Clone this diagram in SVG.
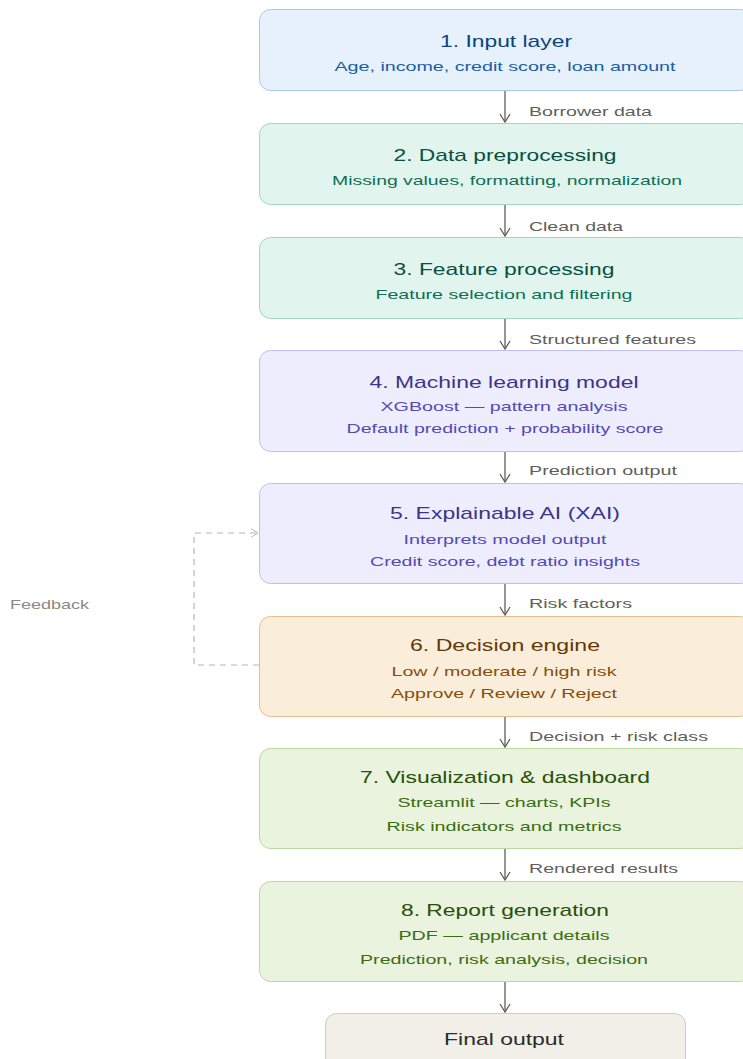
<svg xmlns="http://www.w3.org/2000/svg" width="743" height="1059" viewBox="0 0 743 1059">
<defs>
<style>
text{font-family:"Liberation Sans",Arial,sans-serif}
.t{font-size:17px;text-anchor:middle}
.s{font-size:13px;text-anchor:middle}
.l{font-size:13px;fill:#5f5e5a}
.box{stroke-width:1}
.blue rect{fill:#e6f1fb;stroke:#a9c9ec}.blue .t{fill:#0c447c}.blue .s{fill:#185fa5}
.teal rect{fill:#e1f5ee;stroke:#9fd8c2}.teal .t{fill:#085041}.teal .s{fill:#0f6e56}
.purple rect{fill:#eeedfe;stroke:#c3bef0}.purple .t{fill:#3c3489}.purple .s{fill:#534ab7}
.amber rect{fill:#faeeda;stroke:#e3c08a}.amber .t{fill:#633806}.amber .s{fill:#854f0b}
.green rect{fill:#eaf3de;stroke:#bcd89a}.green .t{fill:#27500a}.green .s{fill:#3b6d11}
.gray rect{fill:#f1efe8;stroke:#cfccc3}.gray .t{fill:#2c2c2a}
.arr{stroke:#5f5e5a;stroke-width:1.3;fill:none}
.fb{stroke:#b8b6b0;stroke-width:1.2;fill:none;stroke-dasharray:6 5}
</style>
<marker id="ah" viewBox="0 0 12 12" refX="10" refY="6" markerWidth="12" markerHeight="12" markerUnits="userSpaceOnUse" orient="auto">
<path d="M2,1 L10,6 L2,11" fill="none" stroke="#5f5e5a" stroke-width="1.3"/>
</marker>
<marker id="ahf" viewBox="0 0 12 12" refX="10" refY="6" markerWidth="10" markerHeight="10" markerUnits="userSpaceOnUse" orient="auto">
<path d="M2,1 L10,6 L2,11" fill="none" stroke="#b8b6b0" stroke-width="1.2"/>
</marker>
</defs>
<rect width="743" height="1059" fill="#ffffff"/>

<g id="connectors">
<path class="arr" d="M505,90 V122" marker-end="url(#ah)"/>
<path class="arr" d="M505,204 V236" marker-end="url(#ah)"/>
<path class="arr" d="M505,318 V349" marker-end="url(#ah)"/>
<path class="arr" d="M505,451 V482" marker-end="url(#ah)"/>
<path class="arr" d="M505,583 V615" marker-end="url(#ah)"/>
<path class="arr" d="M505,716 V747" marker-end="url(#ah)"/>
<path class="arr" d="M505,848 V880" marker-end="url(#ah)"/>
<path class="arr" d="M505,981 V1012" marker-end="url(#ah)"/>
<path class="fb" d="M259,665 H194 V533 H258" marker-end="url(#ahf)"/>
<text class="l" x="529" y="116" textLength="123" lengthAdjust="spacingAndGlyphs">Borrower data</text>
<text class="l" x="529" y="231" textLength="94" lengthAdjust="spacingAndGlyphs">Clean data</text>
<text class="l" x="529" y="344" textLength="167" lengthAdjust="spacingAndGlyphs">Structured features</text>
<text class="l" x="529" y="475" textLength="148" lengthAdjust="spacingAndGlyphs">Prediction output</text>
<text class="l" x="529" y="608" textLength="103" lengthAdjust="spacingAndGlyphs">Risk factors</text>
<text class="l" x="529" y="741" textLength="179" lengthAdjust="spacingAndGlyphs">Decision + risk class</text>
<text class="l" x="529" y="873" textLength="149" lengthAdjust="spacingAndGlyphs">Rendered results</text>
<text class="l" x="10" y="609" textLength="79" lengthAdjust="spacingAndGlyphs" style="fill:#8a8983">Feedback</text>
</g>

<g id="n1" class="box blue">
<rect x="259.5" y="9.5" width="492" height="81" rx="11"/>
<text class="t" x="506" y="47" textLength="132" lengthAdjust="spacingAndGlyphs">1. Input layer</text>
<text class="s" x="505" y="71" textLength="341" lengthAdjust="spacingAndGlyphs">Age, income, credit score, loan amount</text>
</g>
<g id="n2" class="box teal">
<rect x="259.5" y="123.5" width="492" height="81" rx="11"/>
<text class="t" x="505" y="161" textLength="223" lengthAdjust="spacingAndGlyphs">2. Data preprocessing</text>
<text class="s" x="507" y="185" textLength="350" lengthAdjust="spacingAndGlyphs">Missing values, formatting, normalization</text>
</g>
<g id="n3" class="box teal">
<rect x="259.5" y="237.5" width="492" height="81" rx="11"/>
<text class="t" x="504" y="275" textLength="221" lengthAdjust="spacingAndGlyphs">3. Feature processing</text>
<text class="s" x="504" y="299" textLength="257" lengthAdjust="spacingAndGlyphs">Feature selection and filtering</text>
</g>
<g id="n4" class="box purple">
<rect x="259.5" y="350.5" width="492" height="101" rx="11"/>
<text class="t" x="504" y="388" textLength="269" lengthAdjust="spacingAndGlyphs">4. Machine learning model</text>
<text class="s" x="504" y="411" textLength="247" lengthAdjust="spacingAndGlyphs">XGBoost — pattern analysis</text>
<text class="s" x="505" y="433" textLength="317" lengthAdjust="spacingAndGlyphs">Default prediction + probability score</text>
</g>
<g id="n5" class="box purple">
<rect x="259.5" y="483.5" width="492" height="100" rx="11"/>
<text class="t" x="505" y="519" textLength="230" lengthAdjust="spacingAndGlyphs">5. Explainable AI (XAI)</text>
<text class="s" x="505" y="544" textLength="203" lengthAdjust="spacingAndGlyphs">Interprets model output</text>
<text class="s" x="505" y="566" textLength="270" lengthAdjust="spacingAndGlyphs">Credit score, debt ratio insights</text>
</g>
<g id="n6" class="box amber">
<rect x="259.5" y="616.5" width="492" height="100" rx="11"/>
<text class="t" x="505" y="651" textLength="190" lengthAdjust="spacingAndGlyphs">6. Decision engine</text>
<text class="s" x="504" y="676" textLength="225" lengthAdjust="spacingAndGlyphs">Low / moderate / high risk</text>
<text class="s" x="504" y="698" textLength="226" lengthAdjust="spacingAndGlyphs">Approve / Review / Reject</text>
</g>
<g id="n7" class="box green">
<rect x="259.5" y="748.5" width="492" height="100" rx="11"/>
<text class="t" x="505" y="783" textLength="290" lengthAdjust="spacingAndGlyphs">7. Visualization &amp; dashboard</text>
<text class="s" x="504" y="807" textLength="213" lengthAdjust="spacingAndGlyphs">Streamlit — charts, KPIs</text>
<text class="s" x="504" y="831" textLength="235" lengthAdjust="spacingAndGlyphs">Risk indicators and metrics</text>
</g>
<g id="n8" class="box green">
<rect x="259.5" y="881.5" width="492" height="100" rx="11"/>
<text class="t" x="505" y="916" textLength="208" lengthAdjust="spacingAndGlyphs">8. Report generation</text>
<text class="s" x="504" y="940" textLength="211" lengthAdjust="spacingAndGlyphs">PDF — applicant details</text>
<text class="s" x="504" y="964" textLength="288" lengthAdjust="spacingAndGlyphs">Prediction, risk analysis, decision</text>
</g>
<g id="final" class="box gray">
<rect x="325.5" y="1013.5" width="360" height="60" rx="11"/>
<text class="t" x="504" y="1045" textLength="120" lengthAdjust="spacingAndGlyphs">Final output</text>
</g>
</svg>
